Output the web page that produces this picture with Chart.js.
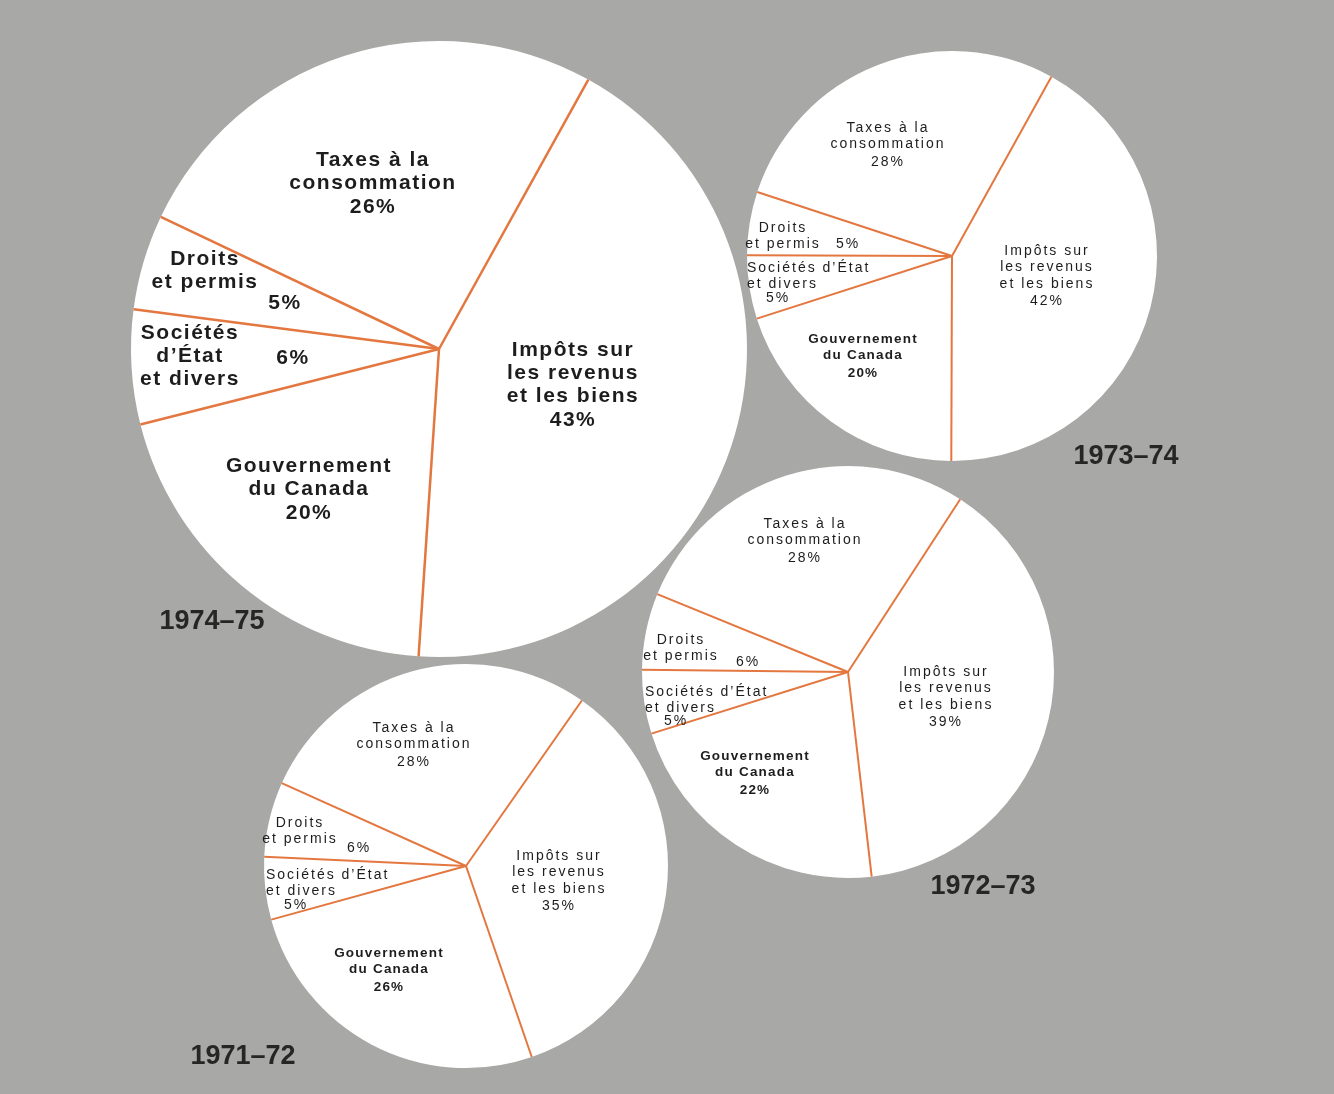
<!DOCTYPE html>
<html lang="fr">
<head>
<meta charset="utf-8">
<title>Recettes - répartition</title>
<script src="https://cdn.jsdelivr.net/npm/chart.js@4/dist/chart.umd.min.js"></script>
<style>
  html, body { margin: 0; padding: 0; }
  body {
    width: 1334px;
    height: 1094px;
    overflow: hidden;
    position: relative;
    background: #a8a9a6;
  }
  canvas { position: absolute; left: 0; top: 0; }
</style>
</head>
<body>
<canvas id="pie7475" width="1334" height="1094"></canvas>
<canvas id="pie7374" width="1334" height="1094"></canvas>
<canvas id="pie7273" width="1334" height="1094"></canvas>
<canvas id="pie7172" width="1334" height="1094"></canvas>
<script>
// === Data ===
const categories = [
  'Impôts sur les revenus et les biens',
  'Gouvernement du Canada',
  'Sociétés d’État et divers',
  'Droits et permis',
  'Taxes à la consommation'
];
const years = ['1974–75', '1973–74', '1972–73', '1971–72'];
const values7475 = [43, 20, 6, 5, 26];
const values7374 = [42, 20, 5, 5, 28];
const values7273 = [39, 22, 5, 6, 28];
const values7172 = [35, 26, 5, 6, 28];

// label text, split as printed (big pie / small pies)
const linesBig = [
  ['Impôts sur', 'les revenus', 'et les biens'],
  ['Gouvernement', 'du Canada'],
  ['Sociétés', 'd’État', 'et divers'],
  ['Droits', 'et permis'],
  ['Taxes à la', 'consommation']
];
const linesSmall = [
  ['Impôts sur', 'les revenus', 'et les biens'],
  ['Gouvernement', 'du Canada'],
  ['Sociétés d’État', 'et divers'],
  ['Droits', 'et permis'],
  ['Taxes à la', 'consommation']
];

const W = 1334, H = 1094;
const LINE = '#e3773f';
const INK = '#1d1d1d';

// === Layout (offsets from pie centre) ===
const layouts = [
  {
    id: 'pie7475', values: values7475, year: years[0], lines: linesBig,
    cx: 439, cy: 349, r: 308, rotation: 29, lw: 2.5,
    font: 'bold 21px "Liberation Sans", Arial, sans-serif', ls: '1.5px', lh: 23,
    boldFont: 'bold 21px "Liberation Sans", Arial, sans-serif', boldLs: '1.5px',
    yearAt: [212, 622],
    place: [
      { x: 134, y: 1, align: 'center' },
      { x: -130, y: 117, align: 'center' },
      { x: -249, y: -16, align: 'center', pct: [-146, 9] },
      { x: -234, y: -90, align: 'center', pct: [-154, -46] },
      { x: -66, y: -189, align: 'center' }
    ]
  },
  {
    id: 'pie7374', values: values7374, year: years[1], lines: linesSmall,
    cx: 952, cy: 256, r: 205, rotation: 29, lw: 2,
    font: '14px "Liberation Sans", Arial, sans-serif', ls: '2px', lh: 16.5,
    boldFont: 'bold 13.5px "Liberation Sans", Arial, sans-serif', boldLs: '1.2px',
    yearAt: [1126, 457],
    place: [
      { x: 95, y: -5, align: 'center' },
      { x: -89, y: 83, align: 'center' },
      { x: -205, y: 12, align: 'left', pct: [-174, 42] },
      { x: -169, y: -28, align: 'center', pct: [-104, -12] },
      { x: -64, y: -128, align: 'center' }
    ]
  },
  {
    id: 'pie7273', values: values7273, year: years[2], lines: linesSmall,
    cx: 848, cy: 672, r: 206, rotation: 33, lw: 2,
    font: '14px "Liberation Sans", Arial, sans-serif', ls: '2px', lh: 16.5,
    boldFont: 'bold 13.5px "Liberation Sans", Arial, sans-serif', boldLs: '1.2px',
    yearAt: [983, 887],
    place: [
      { x: 98, y: 0, align: 'center' },
      { x: -93, y: 84, align: 'center' },
      { x: -203, y: 20, align: 'left', pct: [-172, 49] },
      { x: -167, y: -32, align: 'center', pct: [-100, -10] },
      { x: -43, y: -148, align: 'center' }
    ]
  },
  {
    id: 'pie7172', values: values7172, year: years[3], lines: linesSmall,
    cx: 466, cy: 866, r: 202, rotation: 35, lw: 2,
    font: '14px "Liberation Sans", Arial, sans-serif', ls: '2px', lh: 16.5,
    boldFont: 'bold 13.5px "Liberation Sans", Arial, sans-serif', boldLs: '1.2px',
    yearAt: [243, 1057],
    place: [
      { x: 93, y: -10, align: 'center' },
      { x: -77, y: 87, align: 'center' },
      { x: -200, y: 9, align: 'left', pct: [-170, 39] },
      { x: -166, y: -43, align: 'center', pct: [-107, -18] },
      { x: -52, y: -138, align: 'center' }
    ]
  }
];

// radial divider lines, taken from each arc's own geometry
const dividerPlugin = {
  id: 'dividers',
  afterDatasetsDraw(chart) {
    const ctx = chart.ctx;
    const lw = chart.config.options.dividerWidth || 2;
    ctx.save();
    ctx.strokeStyle = LINE;
    ctx.lineWidth = lw;
    ctx.lineCap = 'butt';
    chart.getDatasetMeta(0).data.forEach(arc => {
      const p = arc.getProps(['x', 'y', 'startAngle', 'outerRadius'], true);
      ctx.beginPath();
      ctx.moveTo(p.x, p.y);
      ctx.lineTo(p.x + p.outerRadius * Math.cos(p.startAngle),
                 p.y + p.outerRadius * Math.sin(p.startAngle));
      ctx.stroke();
    });
    ctx.restore();
  }
};

function labelPlugin(lay) {
  return {
    id: 'sliceLabels',
    afterDraw(chart) {
      const ctx = chart.ctx;
      const arc = chart.getDatasetMeta(0).data[0];
      const cx = arc.x, cy = arc.y;
      ctx.save();
      ctx.fillStyle = INK;
      ctx.textBaseline = 'middle';
      lay.place.forEach((pl, i) => {
        const isGov = i === 1;
        ctx.font = isGov ? lay.boldFont : lay.font;
        ctx.letterSpacing = isGov ? lay.boldLs : lay.ls;
        ctx.textAlign = pl.align;
        const lines = lay.lines[i];
        lines.forEach((t, k) => {
          ctx.fillText(t, cx + pl.x, cy + pl.y + k * lay.lh);
        });
        const pct = lay.values[i] + '%';
        if (pl.pct) {
          ctx.textAlign = 'center';
          ctx.font = lay.font;
          ctx.letterSpacing = lay.ls;
          ctx.fillText(pct, cx + pl.pct[0], cy + pl.pct[1]);
        } else {
          ctx.fillText(pct, cx + pl.x, cy + pl.y + lines.length * lay.lh + 1);
        }
      });
      // year caption
      ctx.font = 'bold 27px "Liberation Sans", Arial, sans-serif';
      ctx.letterSpacing = '0px';
      ctx.textAlign = 'center';
      ctx.fillStyle = '#262626';
      ctx.fillText(lay.year, lay.yearAt[0], lay.yearAt[1]);
      ctx.restore();
    }
  };
}

layouts.forEach(lay => {
  const el = document.getElementById(lay.id);
  new Chart(el.getContext('2d'), {
    type: 'pie',
    data: {
      labels: categories,
      datasets: [{
        data: lay.values,
        backgroundColor: '#ffffff',
        borderWidth: 0
      }]
    },
    options: {
      responsive: false,
      animation: false,
      events: [],
      rotation: lay.rotation,
      dividerWidth: lay.lw,
      layout: {
        padding: {
          left: lay.cx - lay.r,
          top: lay.cy - lay.r,
          right: W - lay.cx - lay.r,
          bottom: H - lay.cy - lay.r
        }
      },
      plugins: {
        legend: { display: false },
        tooltip: { enabled: false }
      }
    },
    plugins: [dividerPlugin, labelPlugin(lay)]
  });
});
</script>
</body>
</html>
